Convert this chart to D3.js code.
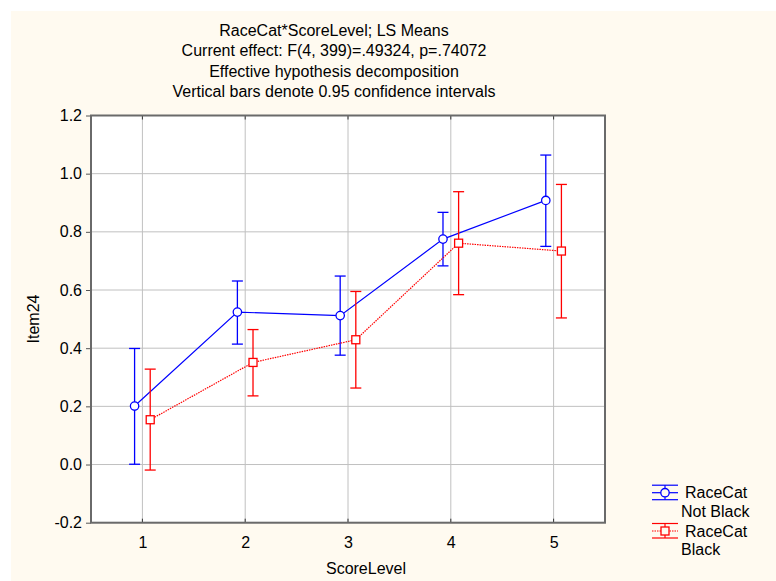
<!DOCTYPE html>
<html><head><meta charset="utf-8">
<script src="https://cdn.jsdelivr.net/npm/d3@7"></script>
<style>body{margin:0;background:#fff}svg{display:block}text{font-family:"Liberation Sans",Arial,sans-serif;fill:#000}</style>
</head><body><svg id="c" width="776" height="581"></svg>
<script>
const scoreLevels = [1, 2, 3, 4, 5];
const yTicks = [-0.2, 0.0, 0.2, 0.4, 0.6, 0.8, 1.0, 1.2];
const notBlackMean = [0.201, 0.524, 0.512, 0.775, 0.908];
const notBlackLow  = [0.001, 0.414, 0.376, 0.683, 0.750];
const notBlackHigh = [0.399, 0.631, 0.648, 0.867, 1.064];
const blackMean = [0.154, 0.351, 0.429, 0.761, 0.734];
const blackLow  = [-0.019, 0.236, 0.263, 0.584, 0.504];
const blackHigh = [0.328, 0.464, 0.595, 0.938, 0.963];
const titleLines = ["RaceCat*ScoreLevel; LS Means", "Current effect: F(4, 399)=.49324, p=.74072", "Effective hypothesis decomposition", "Vertical bars denote 0.95 confidence intervals"];

const FS = "16px";
const svg = d3.select("#c");
svg.append("rect").attr("x", 11).attr("y", 11).attr("width", 765).attr("height", 570).attr("fill", "#fffaf0");

const L = 91, R = 605, T = 115.5, B = 522.7;
const x = d3.scaleLinear().domain([0.5, 5.5]).range([L, R]);
const y = d3.scaleLinear().domain([-0.2, 1.2]).range([B, T]);

svg.append("rect").attr("x", L).attr("y", T).attr("width", R - L).attr("height", B - T).attr("fill", "#fff");

// grid
const g = svg.append("g");
g.selectAll(".gx").data(scoreLevels).join("line").attr("x1", d => x(d)).attr("x2", d => x(d)).attr("y1", T).attr("y2", B).attr("stroke", "#c0c0c0").attr("stroke-width", 1);
g.selectAll(".gy").data(yTicks).join("line").attr("y1", d => y(d)).attr("y2", d => y(d)).attr("x1", L).attr("x2", R).attr("stroke", "#c0c0c0").attr("stroke-width", 1);

// axes
const yAxis = d3.axisLeft(y).tickValues(yTicks).tickFormat(d3.format(".1f")).tickSize(5).tickPadding(4);
const ya = svg.append("g").attr("transform", `translate(${L},0)`).call(yAxis);
const xAxis = d3.axisBottom(x).tickValues(scoreLevels).tickFormat(d3.format("d")).tickSize(0).tickPadding(14);
const xa = svg.append("g").attr("transform", `translate(0,${B})`).call(xAxis);
[ya, xa].forEach(a => {
  a.select(".domain").remove();
  a.selectAll("text").style("font-size", FS).style("font-family", '"Liberation Sans",Arial,sans-serif').attr("fill", "#000");
  a.selectAll("line").attr("stroke", "#555");
});
ya.selectAll("text").text(d => d3.format(".1f")(d).replace("−", "-"));
// inner ticks
svg.append("g").selectAll("line").data(scoreLevels).join("line").attr("x1", d => x(d)).attr("x2", d => x(d)).attr("y1", B - 4).attr("y2", B).attr("stroke", "#333");
svg.append("g").selectAll("line").data(scoreLevels).join("line").attr("x1", d => x(d)).attr("x2", d => x(d)).attr("y1", T).attr("y2", T + 4).attr("stroke", "#333");

// frame
svg.append("rect").attr("x", L).attr("y", T).attr("width", R - L).attr("height", B - T).attr("fill", "none").attr("stroke", "#6a6a6a").attr("stroke-width", 2);

// series
const off = 0.076;
function series(mean, low, high, color, dx, dashed, shape) {
  const pts = scoreLevels.map((s, i) => ({ x: s + dx, m: mean[i], lo: low[i], hi: high[i] }));
  const grp = svg.append("g");
  grp.append("path").datum(pts).attr("d", d3.line().x(d => x(d.x)).y(d => y(d.m)))
    .attr("fill", "none").attr("stroke", color).attr("stroke-width", 1.2).attr("stroke-dasharray", dashed ? "1.5,1" : null);
  grp.selectAll(".eb").data(pts).join("line").attr("x1", d => x(d.x)).attr("x2", d => x(d.x)).attr("y1", d => y(d.lo)).attr("y2", d => y(d.hi)).attr("stroke", color).attr("stroke-width", 1.3);
  ["lo", "hi"].forEach(k => grp.selectAll(".cap" + k).data(pts).join("line").attr("x1", d => x(d.x) - 5.5).attr("x2", d => x(d.x) + 5.5).attr("y1", d => y(d[k])).attr("y2", d => y(d[k])).attr("stroke", color).attr("stroke-width", 1.3));
  if (shape === "circle") grp.selectAll(".mk").data(pts).join("circle").attr("cx", d => x(d.x)).attr("cy", d => y(d.m)).attr("r", 4.2).attr("fill", "#fff").attr("stroke", color).attr("stroke-width", 1.3);
  else grp.selectAll(".mk").data(pts).join("rect").attr("x", d => x(d.x) - 4).attr("y", d => y(d.m) - 4).attr("width", 8).attr("height", 8).attr("fill", "#fff").attr("stroke", color).attr("stroke-width", 1.3);
}
series(notBlackMean, notBlackLow, notBlackHigh, "#0000ff", -off, false, "circle");
series(blackMean, blackLow, blackHigh, "#ff0000", off, true, "square");

// titles
svg.append("g").selectAll("text").data(titleLines).join("text").attr("x", 334).attr("y", (d, i) => 36 + i * 20.3).attr("text-anchor", "middle").style("font-size", FS).text(d => d);
svg.append("text").attr("transform", "translate(39,319) rotate(-90)").attr("text-anchor", "middle").style("font-size", FS).text("Item24");
svg.append("text").attr("x", 366).attr("y", 574).attr("text-anchor", "middle").style("font-size", FS).text("ScoreLevel");

// legend
const legend = [
  { color: "#0000ff", shape: "circle", dashed: false, cy: 492.7, l1: "RaceCat", l2: "Not Black" },
  { color: "#ff0000", shape: "square", dashed: true, cy: 531, l1: "RaceCat", l2: "Black" }
];
legend.forEach(d => {
  const lg = svg.append("g");
  const x0 = 652, x1 = 678, xc = 665;
  lg.append("line").attr("x1", x0).attr("x2", x1).attr("y1", d.cy - 7.5).attr("y2", d.cy - 7.5).attr("stroke", d.color).attr("stroke-width", 1.2);
  lg.append("line").attr("x1", x0).attr("x2", x1).attr("y1", d.cy + 7).attr("y2", d.cy + 7).attr("stroke", d.color).attr("stroke-width", 1.2);
  lg.append("line").attr("x1", x0).attr("x2", x1).attr("y1", d.cy).attr("y2", d.cy).attr("stroke", d.color).attr("stroke-width", 1.2).attr("stroke-dasharray", d.dashed ? "1.5,1" : null);
  lg.append("line").attr("x1", xc).attr("x2", xc).attr("y1", d.cy - 7.5).attr("y2", d.cy + 7).attr("stroke", d.color).attr("stroke-width", 1.2);
  if (d.shape === "circle") lg.append("circle").attr("cx", xc).attr("cy", d.cy).attr("r", 4.2).attr("fill", "#fffaf0").attr("stroke", d.color).attr("stroke-width", 1.3);
  else lg.append("rect").attr("x", xc - 4).attr("y", d.cy - 4).attr("width", 8).attr("height", 8).attr("fill", "#fffaf0").attr("stroke", d.color).attr("stroke-width", 1.3);
  lg.append("text").attr("x", 685).attr("y", d.cy + 5.5).style("font-size", FS).text(d.l1);
  lg.append("text").attr("x", 681).attr("y", d.cy + 24).style("font-size", FS).text(d.l2);
});
</script></body></html>
